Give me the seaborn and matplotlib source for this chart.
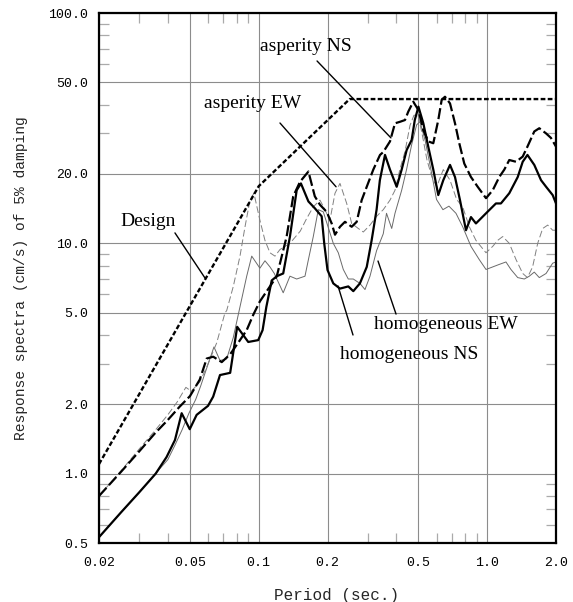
import matplotlib
matplotlib.use("Agg")
import matplotlib.pyplot as plt
from matplotlib.ticker import FixedLocator, FixedFormatter, NullFormatter
import numpy as np
import pandas as pd
import seaborn as sns

# Velocity response spectra (h = 5%)
design_period = [0.02, 0.1, 0.25, 2.0]
design_sa = [1.1, 17.7, 42.3, 42.3]

hns_period = [0.02, 0.025, 0.03, 0.0354, 0.0395, 0.043, 0.046, 0.0499, 0.0535, 0.060,
              0.0632, 0.0677, 0.075, 0.0805, 0.090, 0.0995, 0.104, 0.108, 0.114, 0.12,
              0.128, 0.137, 0.1466, 0.153, 0.165, 0.176, 0.1886, 0.1935, 0.2, 0.212,
              0.2268, 0.2466, 0.2594, 0.2772, 0.297, 0.312, 0.328, 0.339, 0.357, 0.3754,
              0.4016, 0.4223, 0.444, 0.467, 0.482, 0.5, 0.5253, 0.552, 0.5808, 0.6107,
              0.6423, 0.6874, 0.7228, 0.7601, 0.8073, 0.849, 0.8926, 0.988, 1.092, 1.148,
              1.249, 1.36, 1.43, 1.50, 1.607, 1.72, 1.81, 1.934, 2.0]
hns_sa = [0.53, 0.68, 0.83, 1.0, 1.18, 1.4, 1.83, 1.56, 1.8, 1.97,
          2.16, 2.68, 2.74, 4.34, 3.73, 3.8, 4.2, 5.3, 6.9, 7.2,
          7.4, 10.7, 17.0, 18.2, 15.2, 14.2, 13.1, 10.0, 7.66, 6.7,
          6.36, 6.5, 6.2, 6.7, 7.9, 10.3, 14.0, 18.8, 24.2, 20.9,
          17.6, 20.9, 25.4, 28.1, 34.3, 39.2, 33.2, 26.3, 20.9, 16.2,
          18.8, 21.9, 19.4, 15.4, 11.4, 13.0, 12.2, 13.5, 14.9, 14.9,
          16.5, 19.4, 22.6, 24.2, 21.9, 18.8, 17.6, 16.2, 14.9]

ans_period = [0.02, 0.025, 0.03, 0.035, 0.04, 0.045, 0.05, 0.0552, 0.0592, 0.0632,
              0.0689, 0.075, 0.0828, 0.0886, 0.0947, 0.1012, 0.112, 0.12, 0.1325, 0.1416,
              0.1516, 0.165, 0.176, 0.1854, 0.1983, 0.2086, 0.2157, 0.2268, 0.2385, 0.2552,
              0.2684, 0.2822, 0.297, 0.3173, 0.3395, 0.3508, 0.3754, 0.3948, 0.4151, 0.4366,
              0.4513, 0.4747, 0.5, 0.5253, 0.5523, 0.5808, 0.6107, 0.6321, 0.6534, 0.6874,
              0.7228, 0.7547, 0.7936, 0.849, 0.9085, 0.988, 1.057, 1.129, 1.188, 1.249,
              1.337, 1.43, 1.50, 1.607, 1.69, 1.81, 1.90, 2.0]
ans_sa = [0.80, 1.02, 1.25, 1.49, 1.71, 1.95, 2.17, 2.56, 3.16, 3.22,
          3.05, 3.3, 3.8, 4.2, 4.9, 5.6, 6.5, 7.2, 10.7, 16.0,
          18.5, 20.5, 16.0, 14.7, 13.7, 12.2, 10.9, 11.8, 12.4, 11.8,
          12.4, 15.4, 17.6, 20.9, 24.2, 24.9, 27.7, 33.2, 33.7, 34.3,
          37.3, 41.2, 37.9, 31.0, 27.7, 27.2, 34.3, 42.0, 43.3, 40.5,
          33.2, 27.2, 22.2, 19.4, 17.6, 15.7, 17.0, 19.4, 20.9, 23.0,
          22.6, 23.8, 26.3, 30.6, 31.6, 30.0, 28.7, 26.3]

aew_period = [0.02, 0.025, 0.03, 0.035, 0.04, 0.044, 0.048, 0.0507, 0.0552, 0.0592,
              0.0655, 0.0712, 0.0724, 0.0774, 0.0828, 0.0871, 0.0916, 0.0953, 0.1012, 0.1065,
              0.112, 0.1178, 0.1239, 0.137, 0.152, 0.162, 0.1733, 0.1854, 0.1935, 0.205,
              0.2157, 0.2268, 0.2427, 0.2552, 0.2728, 0.2869, 0.3069, 0.328, 0.3508, 0.3754,
              0.3948, 0.4151, 0.4366, 0.4592, 0.478, 0.498, 0.5185, 0.545, 0.573, 0.601,
              0.6423, 0.6874, 0.735, 0.781, 0.835, 0.8926, 0.988, 1.057, 1.111, 1.169,
              1.249, 1.337, 1.43, 1.50, 1.58, 1.663, 1.749, 1.84, 1.934, 2.0]
aew_sa = [0.80, 1.03, 1.28, 1.53, 1.80, 2.05, 2.37, 2.28, 2.5, 2.9,
          3.7, 5.0, 5.1, 6.5, 8.8, 11.8, 15.4, 16.5, 12.6, 10.3,
          9.1, 8.8, 9.4, 10.0, 11.3, 12.8, 14.4, 15.4, 14.2, 12.6,
          16.5, 18.2, 14.9, 12.2, 11.6, 11.2, 12.0, 13.1, 14.0, 15.4,
          17.0, 21.0, 25.0, 32.5, 36.0, 36.0, 30.0, 23.0, 19.4, 17.6,
          20.9, 18.8, 15.5, 14.4, 11.8, 10.3, 9.1, 9.7, 10.3, 10.7,
          10.0, 8.5, 7.4, 7.1, 7.9, 10.0, 11.6, 12.0, 11.4, 11.4]

hew_period = [0.02, 0.025, 0.03, 0.035, 0.04, 0.043, 0.0462, 0.0495, 0.053, 0.0557,
              0.0587, 0.0637, 0.0677, 0.0724, 0.0774, 0.0828, 0.0886, 0.0932, 0.1012, 0.1065,
              0.112, 0.117, 0.128, 0.137, 0.1466, 0.1594, 0.165, 0.1733, 0.1823, 0.1917,
              0.2, 0.212, 0.223, 0.2345, 0.2466, 0.2594, 0.2772, 0.2918, 0.3069, 0.328,
              0.3508, 0.3625, 0.382, 0.3948, 0.4223, 0.444, 0.467, 0.491, 0.508, 0.535,
              0.564, 0.6, 0.64, 0.68, 0.73, 0.781, 0.849, 0.923, 0.988, 1.057,
              1.129, 1.208, 1.27, 1.36, 1.453, 1.528, 1.607, 1.69, 1.81, 1.934, 2.0]
hew_sa = [0.53, 0.68, 0.83, 0.99, 1.15, 1.33, 1.55, 1.83, 2.1, 2.4,
          2.8, 3.55, 3.1, 3.15, 3.9, 5.3, 7.2, 8.8, 7.8, 8.4,
          7.9, 7.4, 6.1, 7.2, 7.0, 7.2, 8.5, 10.7, 14.0, 13.7,
          12.0, 10.0, 9.1, 7.7, 7.0, 7.0, 6.7, 6.3, 7.2, 9.3,
          11.0, 13.5, 11.6, 13.5, 17.0, 21.0, 26.8, 32.7, 33.7, 28.0,
          21.5, 15.5, 14.0, 14.5, 13.5, 11.8, 9.7, 8.5, 7.7, 7.9,
          8.1, 8.3, 7.7, 7.1, 7.0, 7.2, 7.5, 7.1, 7.4, 8.2, 8.3]

x_ticks = [0.02, 0.05, 0.1, 0.2, 0.5, 1.0, 2.0]
x_tick_labels = ["0.02", "0.05", "0.1", "0.2", "0.5", "1.0", "2.0"]
x_minor = [0.03, 0.04, 0.06, 0.07, 0.08, 0.09, 0.3, 0.4, 0.6, 0.7, 0.8, 0.9]
y_ticks = [0.5, 1.0, 2.0, 5.0, 10.0, 20.0, 50.0, 100.0]
y_tick_labels = ["0.5", "1.0", "2.0", "5.0", "10.0", "20.0", "50.0", "100.0"]
y_minor = [0.6, 0.7, 0.8, 0.9, 3, 4, 6, 7, 8, 9, 30, 40, 60, 70, 80, 90]

sns.set_theme(style="white")
plt.rcParams['font.family'] = ['Liberation Mono', 'DejaVu Sans Mono']

fig = plt.figure(figsize=(5.73, 6.02), dpi=100)
ax = fig.add_axes([99 / 573, 1 - 543 / 602, 457 / 573, 530 / 602])

series = [
    (hew_period, hew_sa, dict(color="#6a6a6a", lw=0.7, linestyle="-")),
    (aew_period, aew_sa, dict(color="#808080", lw=0.7, linestyle=(0, (7, 3)))),
    (hns_period, hns_sa, dict(color="black", lw=1.6, linestyle="-")),
    (ans_period, ans_sa, dict(color="black", lw=1.6, linestyle=(0, (5, 1.6)))),
    (design_period, design_sa, dict(color="black", lw=1.7, linestyle=(0, (2.0, 1.0)))),
]
for per, sa, style in series:
    df = pd.DataFrame({"period": per, "sa": sa})
    sns.lineplot(data=df, x="period", y="sa", ax=ax, estimator=None, **style)

ax.set_xscale("log")
ax.set_yscale("log")
ax.set_xlim(0.02, 2.0)
ax.set_ylim(0.5, 100.0)

ax.xaxis.set_major_locator(FixedLocator(x_ticks))
ax.xaxis.set_major_formatter(FixedFormatter(x_tick_labels))
ax.xaxis.set_minor_locator(FixedLocator(x_minor))
ax.xaxis.set_minor_formatter(NullFormatter())
ax.yaxis.set_major_locator(FixedLocator(y_ticks))
ax.yaxis.set_major_formatter(FixedFormatter(y_tick_labels))
ax.yaxis.set_minor_locator(FixedLocator(y_minor))
ax.yaxis.set_minor_formatter(NullFormatter())

ax.grid(True, which="major", color="#8c8c8c", lw=0.8)
ax.tick_params(which="major", length=0, labelsize=9.5, colors="black")
ax.tick_params(axis="x", which="major", pad=10)
ax.tick_params(axis="y", which="major", pad=8)
ax.tick_params(which="minor", direction="in", length=7, width=0.9, color="#aaaaaa",
               top=True, right=True, bottom=True, left=True)
for sp in ax.spines.values():
    sp.set_color("black")
    sp.set_linewidth(1.6)

ax.set_xlabel("Period (sec.)", fontsize=11.5, labelpad=14)
ax.xaxis.label.set_x(0.52)
ax.set_ylabel("Response spectra (cm/s) of 5% damping", fontsize=10.5, labelpad=14)

# Curve labels with leader lines
labels = [
    ("asperity NS", (0.379, 28.7), (0.18, 61.9), (0.161, 71.2)),
    ("asperity EW", (0.218, 17.6), (0.1239, 33.3), (0.0944, 40.3)),
    ("Design", (0.0582, 7.07), (0.043, 11.1), (0.0328, 12.4)),
    ("homogeneous EW", (0.3327, 8.38), (0.399, 4.93), (0.66, 4.45)),
    ("homogeneous NS", (0.2223, 6.53), (0.2586, 4.0), (0.4546, 3.3)),
]
for text, tip, start, pos in labels:
    ax.annotate("", xy=tip, xytext=start,
                arrowprops=dict(arrowstyle="-", color="black", lw=1.0,
                                shrinkA=0, shrinkB=0))
    ax.text(pos[0], pos[1], text, family="Liberation Serif", fontsize=14,
            ha="center", va="center", color="black")

fig.savefig("out.png", dpi=100)
